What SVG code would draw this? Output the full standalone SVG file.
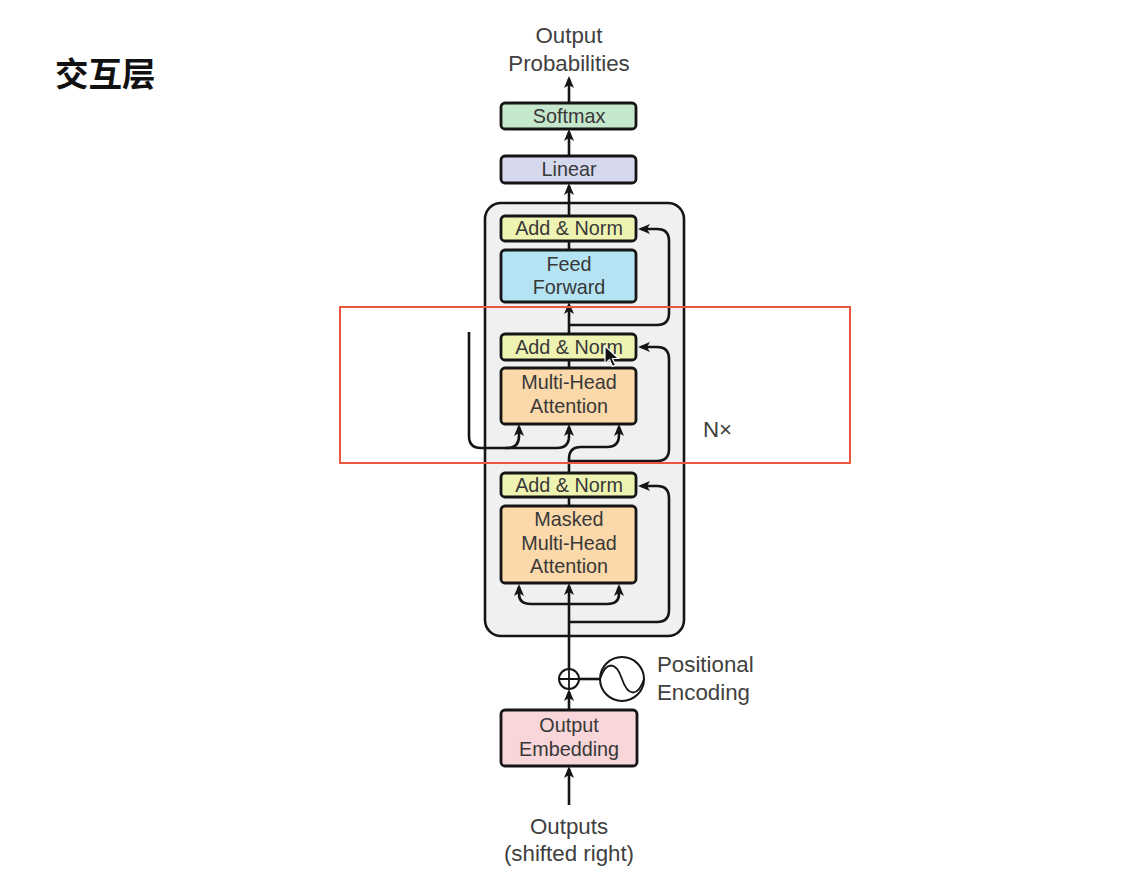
<svg xmlns="http://www.w3.org/2000/svg" width="1142" height="896" viewBox="0 0 1142 896">
<style>
.box{stroke:#151515;stroke-width:2.8}
.lbl{font-family:"Liberation Sans","Helvetica",Arial,sans-serif;font-size:19.8px;fill:#383838;text-anchor:middle}
.big{font-family:"Liberation Sans","Helvetica",Arial,sans-serif;font-size:22.3px;fill:#404040}
.ln{fill:none;stroke:#151515;stroke-width:2.6}
</style>
<defs>
<marker id="ah" markerUnits="userSpaceOnUse" markerWidth="14" markerHeight="14" viewBox="0 0 14 12" refX="9" refY="6" orient="auto">
<path d="M0,1 L12,6 L0,11 L3,6 Z" fill="#151515"/>
</marker>
</defs>
<rect width="1142" height="896" fill="#ffffff"/>
<text x="55" y="86" font-family="'Noto Sans CJK SC','Noto Sans',sans-serif" font-size="33.5" font-weight="bold" fill="#111">交互层</text>

<g id="outer-block">
<rect x="485" y="203" width="199" height="433" rx="16" fill="#f0f0f2" stroke="#151515" stroke-width="2.6"/>
</g>

<g id="connectors">
<path class="ln" d="M569,103 V79" marker-end="url(#ah)"/>
<path class="ln" d="M569,156 V132" marker-end="url(#ah)"/>
<path class="ln" d="M569,216 V186" marker-end="url(#ah)"/>
<path class="ln" d="M569,250 V241"/>
<path class="ln" d="M569,334 V305" marker-end="url(#ah)"/>
<path class="ln" d="M569,325 H657 Q669,325 669,313 V241 Q669,229 657,229 H641" marker-end="url(#ah)"/>
<path class="ln" d="M569,368 V360"/>
<path class="ln" d="M469,332 V436 Q469,448 481,448 H507 Q519,448 519,436 V427" marker-end="url(#ah)"/>
<path class="ln" d="M505,448 H557 Q569,448 569,436 V427" marker-end="url(#ah)"/>
<path class="ln" d="M569,473 V459 Q569,447 581,447 H607 Q619,447 619,435 V427" marker-end="url(#ah)"/>
<path class="ln" d="M569,461 H657 Q669,461 669,449 V359 Q669,347 657,347 H641" marker-end="url(#ah)"/>
<path class="ln" d="M569,506 V497"/>
<path class="ln" d="M569,669 V586" marker-end="url(#ah)"/>
<path class="ln" d="M569,604 H531 Q519,604 519,594 V587" marker-end="url(#ah)"/>
<path class="ln" d="M569,604 H607 Q619,604 619,594 V587" marker-end="url(#ah)"/>
<path class="ln" d="M569,622 H657 Q669,622 669,610 V498 Q669,486 657,486 H641" marker-end="url(#ah)"/>
<path class="ln" d="M569,710 V692" marker-end="url(#ah)"/>
<path class="ln" d="M569,805 V769" marker-end="url(#ah)"/>
<path class="ln" d="M579,679 H600"/>
</g>

<g id="output-probabilities">
<text class="big" x="569" y="43" text-anchor="middle">Output</text>
<text class="big" x="569" y="71" text-anchor="middle">Probabilities</text>
</g>
<g id="softmax">
<rect class="box" x="501" y="103" width="135" height="26" rx="4" fill="#c5e7cc"/>
<text class="lbl" x="569" y="123">Softmax</text>
</g>
<g id="linear">
<rect class="box" x="501" y="156" width="135" height="27" rx="4" fill="#d6d8ee"/>
<text class="lbl" x="569" y="176">Linear</text>
</g>
<g id="add-norm-1">
<rect class="box" x="501" y="216" width="135" height="25" rx="4" fill="#eef3b2"/>
<text class="lbl" x="569" y="235">Add &amp; Norm</text>
</g>
<g id="feed-forward">
<rect class="box" x="501" y="250" width="135" height="52" rx="4" fill="#b4e4f4"/>
<text class="lbl" x="569" y="271">Feed</text>
<text class="lbl" x="569" y="294">Forward</text>
</g>
<g id="add-norm-2">
<rect class="box" x="501" y="334" width="135" height="26" rx="4" fill="#eef3b2"/>
<text class="lbl" x="569" y="354">Add &amp; Norm</text>
</g>
<g id="multi-head-attention">
<rect class="box" x="501" y="368" width="135" height="56" rx="4" fill="#fcd9aa"/>
<text class="lbl" x="569" y="389">Multi-Head</text>
<text class="lbl" x="569" y="413">Attention</text>
</g>
<g id="add-norm-3">
<rect class="box" x="501" y="473" width="135" height="24" rx="4" fill="#eef3b2"/>
<text class="lbl" x="569" y="492">Add &amp; Norm</text>
</g>
<g id="masked-multi-head-attention">
<rect class="box" x="501" y="506" width="135" height="77" rx="4" fill="#fcd9aa"/>
<text class="lbl" x="569" y="526">Masked</text>
<text class="lbl" x="569" y="550">Multi-Head</text>
<text class="lbl" x="569" y="573">Attention</text>
</g>
<g id="nx">
<text class="big" x="703" y="437" font-size="21">N×</text>
</g>
<g id="add-circle">
<circle cx="569" cy="679" r="10" fill="#fff" stroke="#151515" stroke-width="2"/>
<path d="M560,679 H578 M569,670 V688" stroke="#151515" stroke-width="1.8" fill="none"/>
</g>
<g id="positional-encoding">
<circle cx="622" cy="679" r="22" fill="#fff" stroke="#151515" stroke-width="2"/>
<path d="M600,679 C606,661 616,661 622,679 C628,697 638,697 644,679" fill="none" stroke="#151515" stroke-width="1.8"/>
<text class="big" x="657" y="672">Positional</text>
<text class="big" x="657" y="700">Encoding</text>
</g>
<g id="output-embedding">
<rect class="box" x="501" y="710" width="136" height="56" rx="4" fill="#f9d6d9"/>
<text class="lbl" x="569" y="732">Output</text>
<text class="lbl" x="569" y="756">Embedding</text>
</g>
<g id="outputs">
<text class="big" x="569" y="834" text-anchor="middle">Outputs</text>
<text class="big" x="569" y="861" text-anchor="middle">(shifted right)</text>
</g>

<rect x="340" y="307" width="510" height="156" fill="none" stroke="#e8573f" stroke-width="2"/>
<path d="M605,346 L605,364 L609.5,359.5 L612.5,366.5 L615.5,365 L612.5,358.5 L618.5,358.5 Z" fill="#111" stroke="#fff" stroke-width="1.2"/>
</svg>
